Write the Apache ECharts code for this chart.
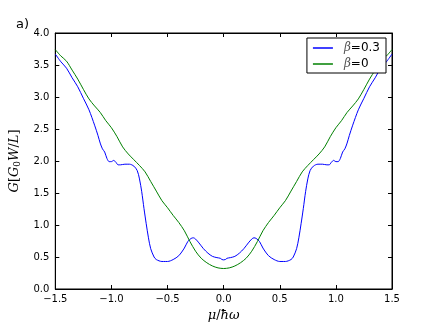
<!DOCTYPE html>
<html>
<head>
<meta charset="utf-8">
<script src="https://cdn.jsdelivr.net/npm/echarts@6/dist/echarts.min.js"></script>
<style>
  html, body { margin: 0; padding: 0; background: #fff; }
  #main { width: 436px; height: 327px; }
</style>
</head>
<body>
<div id="main"></div>
<script>
// beta = 0.3 (blue)
const muBlue = [-1.5, -1.45, -1.4, -1.35, -1.3, -1.25, -1.2, -1.15, -1.12, -1.1, -1.08, -1.06, -1.04, -1.02, -1.0, -0.98, -0.96, -0.94, -0.92, -0.88, -0.84, -0.8, -0.77, -0.75, -0.73, -0.71, -0.69, -0.67, -0.65, -0.62, -0.6, -0.55, -0.52, -0.5, -0.45, -0.4, -0.35, -0.32, -0.29, -0.27, -0.25, -0.22, -0.18, -0.14, -0.1, -0.06, -0.03, -0.015, 0,
  0.015, 0.03, 0.06, 0.1, 0.14, 0.18, 0.22, 0.25, 0.27, 0.29, 0.32, 0.35, 0.4, 0.45, 0.5, 0.52, 0.55, 0.6, 0.62, 0.65, 0.67, 0.69, 0.71, 0.73, 0.75, 0.77, 0.8, 0.84, 0.88, 0.92, 0.94, 0.96, 0.98, 1.0, 1.02, 1.04, 1.06, 1.08, 1.1, 1.12, 1.15, 1.2, 1.25, 1.3, 1.35, 1.4, 1.45, 1.5];
const gBlue = [3.67, 3.55, 3.45, 3.30, 3.16, 2.98, 2.80, 2.56, 2.40, 2.28, 2.19, 2.14, 2.04, 1.99, 1.99, 2.01, 1.98, 1.94, 1.94, 1.95, 1.95, 1.92, 1.85, 1.72, 1.52, 1.26, 1.02, 0.80, 0.63, 0.50, 0.46, 0.43, 0.43, 0.43, 0.46, 0.52, 0.64, 0.74, 0.79, 0.80, 0.78, 0.72, 0.63, 0.56, 0.51, 0.49, 0.48, 0.46, 0.455,
  0.46, 0.48, 0.49, 0.51, 0.56, 0.63, 0.72, 0.78, 0.80, 0.79, 0.74, 0.64, 0.52, 0.46, 0.43, 0.43, 0.43, 0.46, 0.50, 0.63, 0.80, 1.02, 1.26, 1.52, 1.72, 1.85, 1.92, 1.95, 1.95, 1.94, 1.94, 1.98, 2.01, 1.99, 1.99, 2.04, 2.14, 2.19, 2.28, 2.40, 2.56, 2.80, 2.98, 3.16, 3.30, 3.45, 3.55, 3.67];

// beta = 0 (green)
const muGreen = [-1.5, -1.45, -1.4, -1.35, -1.3, -1.25, -1.2, -1.15, -1.1, -1.05, -1.0, -0.95, -0.9, -0.85, -0.8, -0.75, -0.7, -0.65, -0.6, -0.55, -0.5, -0.45, -0.4, -0.35, -0.3, -0.25, -0.2, -0.15, -0.1, -0.05, 0,
  0.05, 0.1, 0.15, 0.2, 0.25, 0.3, 0.35, 0.4, 0.45, 0.5, 0.55, 0.6, 0.65, 0.7, 0.75, 0.8, 0.85, 0.9, 0.95, 1.0, 1.05, 1.1, 1.15, 1.2, 1.25, 1.3, 1.35, 1.4, 1.45, 1.5];
const gGreen = [3.74, 3.64, 3.56, 3.42, 3.28, 3.12, 2.97, 2.86, 2.76, 2.63, 2.52, 2.38, 2.22, 2.11, 2.02, 1.93, 1.83, 1.68, 1.53, 1.38, 1.27, 1.15, 1.04, 0.91, 0.74, 0.59, 0.48, 0.41, 0.36, 0.33, 0.32,
  0.33, 0.36, 0.41, 0.48, 0.59, 0.74, 0.91, 1.04, 1.15, 1.27, 1.38, 1.53, 1.68, 1.83, 1.93, 2.02, 2.11, 2.22, 2.38, 2.52, 2.63, 2.76, 2.86, 2.97, 3.12, 3.28, 3.42, 3.56, 3.64, 3.74];

const seriesNames = ['β=0.3', 'β=0'];
const seriesColors = ['#0000ff', '#008000'];

const chart = echarts.init(document.getElementById('main'));

const fmt = v => v.toFixed(1).replace('-', '\u2212');
const tickFont = { fontFamily: 'DejaVu Sans', fontSize: 10, color: '#000' };
const mathRich = {
  i: { fontFamily: 'DejaVu Serif', fontStyle: 'italic', fontSize: 13, color: '#000' },
  n: { fontFamily: 'DejaVu Serif', fontSize: 13, color: '#000' },
  s: { fontFamily: 'DejaVu Serif', fontSize: 9, color: '#000', verticalAlign: 'bottom', padding: [7, 0, 0, 0] }
};

function pairs(xs, ys) {
  return xs.map((x, i) => [x, ys[i]]);
}

const frameAxis = {
  axisLine: { onZero: false, lineStyle: { color: '#000' } },
  axisTick: { inside: true, length: 4, lineStyle: { color: '#000' } },
  splitLine: { show: false }
};

const option = {
  animation: false,
  backgroundColor: '#fff',
  grid: { left: 54, right: 44, top: 33, bottom: 33, show: true, borderColor: '#000', borderWidth: 1 },
  title: {
    text: 'a)', left: 11, top: 13,
    textStyle: { fontFamily: 'DejaVu Sans', fontSize: 13, fontWeight: 'normal', color: '#000' }
  },
  legend: {
    right: 50, top: 38,
    orient: 'vertical',
    backgroundColor: '#fff',
    borderColor: '#000', borderWidth: 1, borderRadius: 0,
    padding: [4, 6, 3, 6],
    itemWidth: 20, itemHeight: 1.5, itemGap: 4,
    icon: 'rect',
    data: seriesNames,
    formatter: name => name === 'β=0.3' ? '{i|β}{n|=0.3}' : '{i|β}{n|=0}',
    textStyle: {
      padding: [0, 0, 0, 6],
      rich: {
        i: { fontFamily: 'DejaVu Serif', fontStyle: 'italic', fontSize: 12, color: '#555' },
        n: { fontFamily: 'DejaVu Sans', fontSize: 12, color: '#000' }
      }
    }
  },
  xAxis: [Object.assign({
    type: 'value', min: -1.5, max: 1.5, interval: 0.5,
    name: '{i|μ}{n|/}{i|ħω}', nameLocation: 'middle', nameGap: 20,
    nameTextStyle: { rich: mathRich },
    axisLabel: Object.assign({ formatter: fmt, margin: 5 }, tickFont)
  }, frameAxis), Object.assign({
    type: 'value', min: -1.5, max: 1.5, interval: 0.5, position: 'top',
    axisLabel: { show: false }
  }, frameAxis)],
  yAxis: [Object.assign({
    type: 'value', min: 0, max: 4, interval: 0.5,
    name: '{i|G}{n|[}{i|G}{s|0}{i|W}{n|/}{i|L}{n|]}', nameLocation: 'middle', nameGap: 30, nameRotate: 90,
    nameTextStyle: { rich: mathRich },
    axisLabel: Object.assign({ formatter: fmt, margin: 6 }, tickFont)
  }, frameAxis), Object.assign({
    type: 'value', min: 0, max: 4, interval: 0.5, position: 'right',
    axisLabel: { show: false }
  }, frameAxis)],
  series: [{
    name: seriesNames[0], type: 'line', showSymbol: false, smooth: 0.3,
    color: seriesColors[0], lineStyle: { width: 1 },
    data: pairs(muBlue, gBlue)
  }, {
    name: seriesNames[1], type: 'line', showSymbol: false, smooth: 0.3,
    color: seriesColors[1], lineStyle: { width: 1 },
    data: pairs(muGreen, gGreen)
  }]
};

chart.setOption(option);
</script>
</body>
</html>
